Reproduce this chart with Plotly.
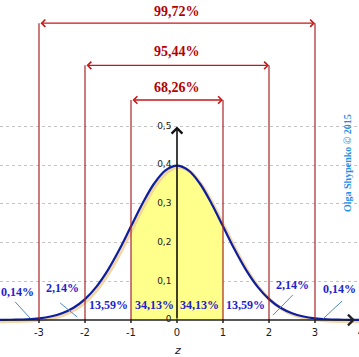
import numpy as np
import plotly.graph_objects as go

# ---- data ----
z_values = [-4.0, -3.75, -3.5, -3.25, -3.0, -2.75, -2.5, -2.25, -2.0, -1.75, -1.5, -1.25,
            -1.0, -0.75, -0.5, -0.25, 0.0, 0.25, 0.5, 0.75, 1.0, 1.25, 1.5, 1.75,
            2.0, 2.25, 2.5, 2.75, 3.0, 3.25, 3.5, 3.75, 4.0]
density = [0.0001, 0.0004, 0.0009, 0.0020, 0.0044, 0.0091, 0.0175, 0.0317, 0.0540, 0.0863,
           0.1295, 0.1826, 0.2420, 0.3011, 0.3521, 0.3867, 0.3989, 0.3867, 0.3521, 0.3011,
           0.2420, 0.1826, 0.1295, 0.0863, 0.0540, 0.0317, 0.0175, 0.0091, 0.0044, 0.0020,
           0.0009, 0.0004, 0.0001]

band_labels = ["0,14%", "2,14%", "13,59%", "34,13%", "34,13%", "13,59%", "2,14%", "0,14%"]
interval_sigmas = [1, 2, 3]
interval_labels = ["68,26%", "95,44%", "99,72%"]
x_ticks = [-3, -2, -1, 0, 1, 2, 3, 4]
y_ticks = [0.1, 0.2, 0.3, 0.4, 0.5]
y_tick_labels = ["0,1", "0,2", "0,3", "0,4", "0,5"]

# ---- layout positions (label placement) ----
band_label_x = [-3.46, -2.48, -1.5, -0.49, 0.49, 1.48, 2.52, 3.54]
band_label_y = [0.072, 0.083, 0.039, 0.039, 0.039, 0.039, 0.090, 0.080]
leader_from = [(-3.52, 0.047), (-2.54, 0.044), None, None, None, None, (2.52, 0.065), (3.59, 0.049)]
leader_to = [(-3.19, 0.0044), (-2.17, 0.0078), None, None, None, None, (2.09, 0.013), (3.17, 0.0026)]
arrow_heights = [0.5685, 0.658, 0.767]
interval_label_y = [0.602, 0.693, 0.796]

RED_V = "#a82424"
RED_A = "#c41818"
BLUE_T = "#1c22cc"
CURVE = "#0d1f9e"

fig = go.Figure()

z = np.array(z_values)
d = np.array(density)

# yellow fill between -1 and 1
mask = (z >= -1) & (z <= 1)
fig.add_trace(go.Scatter(x=z[mask], y=d[mask], mode="lines", line=dict(color="rgba(0,0,0,0)", width=0, shape="spline"),
                         fill="tozeroy", fillcolor="#ffff8c", hoverinfo="skip", showlegend=False))

# red vertical lines
for s, h in zip(interval_sigmas, arrow_heights):
    for sign in (-1, 1):
        fig.add_shape(type="line", x0=sign * s, x1=sign * s, y0=0, y1=h, xref="x", yref="y",
                      line=dict(color=RED_V, width=1.2))

# curve shadow and curve
fig.add_trace(go.Scatter(x=z + 0.04, y=d - 0.004, mode="lines",
                         line=dict(color="rgba(240,205,150,0.8)", width=3.5, shape="spline"),
                         hoverinfo="skip", showlegend=False))
fig.add_trace(go.Scatter(x=z, y=d, mode="lines", line=dict(color=CURVE, width=2.2, shape="spline"),
                         hoverinfo="skip", showlegend=False))

# x axis with arrow
x_lo, x_hi = -177 / 46, 182 / 46
y_lo, y_hi = -37 / 387, 320 / 387
fig.add_annotation(x=3.87, y=0, ax=x_lo, ay=0, xref="x", yref="y", axref="x", ayref="y",
                   text="", showarrow=True, arrowhead=4, arrowsize=1.3, arrowwidth=1.6, arrowcolor="#222222")
# y axis with arrow
fig.add_annotation(x=0, y=0.5, ax=0, ay=0, xref="x", yref="y", axref="x", ayref="y",
                   text="", showarrow=True, arrowhead=4, arrowsize=1.3, arrowwidth=1.6, arrowcolor="#111111")

# x ticks
for t in x_ticks:
    fig.add_shape(type="line", x0=t, x1=t, y0=0.002, y1=-0.008, xref="x", yref="y",
                  line=dict(color="#222222", width=1.5))

fig.add_trace(go.Scatter(x=x_ticks, y=[-0.034] * len(x_ticks), mode="text", text=[str(t) for t in x_ticks],
                         textfont=dict(family="DejaVu Sans", size=10, color="#1a1a1a"),
                         hoverinfo="skip", showlegend=False))
fig.add_trace(go.Scatter(x=[-0.12] * (len(y_ticks) + 1), y=[0] + y_ticks, mode="text",
                         text=["0"] + y_tick_labels, textposition="middle left",
                         textfont=dict(family="DejaVu Sans", size=9, color="#1a1a1a"),
                         hoverinfo="skip", showlegend=False))
fig.add_annotation(x=0, y=-0.080, xref="x", yref="y", text="<i>z</i>", showarrow=False,
                   font=dict(family="DejaVu Sans", size=11, color="#222222"))

# double-headed interval arrows and labels
for s, h, lab, ly in zip(interval_sigmas, arrow_heights, interval_labels, interval_label_y):
    fig.add_annotation(x=s, y=h, ax=-s, ay=h, xref="x", yref="y", axref="x", ayref="y", text="",
                       showarrow=True, arrowhead=4, startarrowhead=4, arrowside="end+start",
                       arrowsize=1.1, startarrowsize=1.1, arrowwidth=1.3, arrowcolor=RED_A)
    fig.add_annotation(x=0, y=ly, xref="x", yref="y", text="<b>" + lab + "</b>", showarrow=False,
                       font=dict(family="Liberation Serif", size=14, color="#b30000"))

# band labels + leader lines
for lab, lx, ly, lf, lt in zip(band_labels, band_label_x, band_label_y, leader_from, leader_to):
    if lf is not None:
        fig.add_shape(type="line", x0=lf[0], y0=lf[1], x1=lt[0], y1=lt[1], xref="x", yref="y",
                      line=dict(color="#4f88c8", width=1))
    fig.add_annotation(x=lx, y=ly, xref="x", yref="y", text="<b>" + lab + "</b>", showarrow=False,
                       font=dict(family="Liberation Serif", size=12, color=BLUE_T))

# watermark
fig.add_annotation(x=3.72, y=0.406, xref="x", yref="y", text="<b>Olga Shypenko © 2015</b>", textangle=-90,
                   showarrow=False, font=dict(family="Liberation Serif", size=10, color="#1e8fe8"))

fig.update_layout(
    width=359, height=357, margin=dict(l=0, r=0, t=0, b=0),
    paper_bgcolor="white", plot_bgcolor="white", showlegend=False,
    xaxis=dict(range=[x_lo, x_hi], visible=False, showgrid=False, zeroline=False, fixedrange=True),
    yaxis=dict(range=[y_lo, y_hi], showgrid=True, tickvals=y_ticks, showticklabels=False, ticks="",
               gridcolor="#c4c4c4", griddash="dot", gridwidth=1, zeroline=False, showline=False,
               fixedrange=True),
)

fig.write_html("out.html", config={"displayModeBar": False},
               post_script="document.body.style.margin='0px';document.body.style.overflow='hidden';")
